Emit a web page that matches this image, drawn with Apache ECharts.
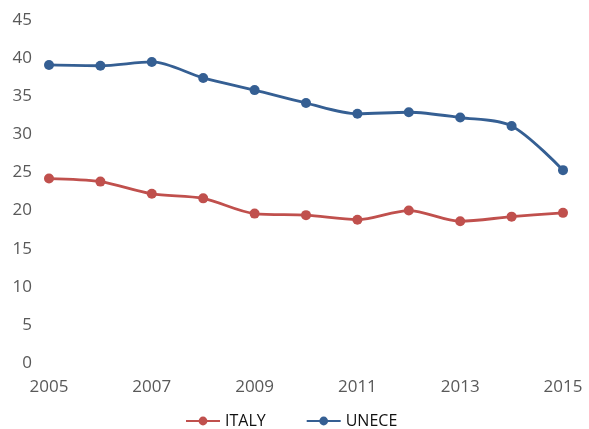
<!DOCTYPE html>
<html><head><meta charset="utf-8">
<script src="https://cdn.jsdelivr.net/npm/echarts@6/dist/echarts.min.js"></script>
<style>html,body{margin:0;padding:0;background:#fff}#c{width:589px;height:429px}</style>
</head><body><div id="c"></div>
<script>
const years = ['2005','2006','2007','2008','2009','2010','2011','2012','2013','2014','2015'];
const italy = [24.2, 23.8, 22.2, 21.6, 19.6, 19.4, 18.8, 20.0, 18.6, 19.2, 19.7];
const unece = [39.1, 39.0, 39.5, 37.4, 35.8, 34.1, 32.7, 32.9, 32.2, 31.1, 25.3];
const yTicks = [0, 45, 5];

const chart = echarts.init(document.getElementById('c'), null, {renderer:'canvas'});
const font = 'Open Sans';
chart.setOption({
  animation:false,
  grid:{left:49, right:26, top:20, bottom:66, containLabel:false},
  legend:{
    bottom:0, padding:0, left:185, itemWidth:34, itemHeight:11, itemGap:40,
    textStyle:{fontFamily:font, fontSize:16, color:'#111'},
    data:['ITALY','UNECE']
  },
  xAxis:{
    type:'category', data:years, boundaryGap:false,
    axisLine:{show:false}, axisTick:{show:false},
    axisLabel:{interval:1, fontFamily:font, fontSize:17, color:'#595959', margin:16}
  },
  yAxis:{
    type:'value', min:yTicks[0], max:yTicks[1], interval:yTicks[2],
    splitLine:{show:false}, axisLine:{show:false}, axisTick:{show:false},
    axisLabel:{fontFamily:font, fontSize:17, color:'#595959', margin:17}
  },
  series:[
    {name:'ITALY', type:'line', data:italy, smooth:0.3, symbol:'circle', symbolSize:10,
     itemStyle:{color:'#C0504D'}, lineStyle:{width:2.8, color:'#C0504D'}},
    {name:'UNECE', type:'line', data:unece, smooth:0.3, symbol:'circle', symbolSize:10,
     itemStyle:{color:'#355F93'}, lineStyle:{width:2.8, color:'#355F93'}}
  ]
});
</script></body></html>
